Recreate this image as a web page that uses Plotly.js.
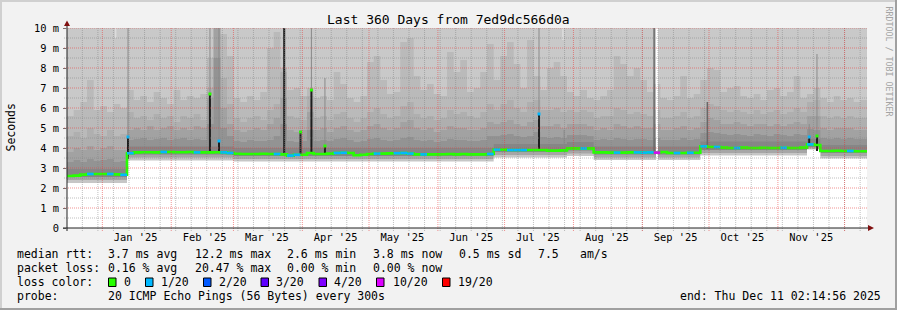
<!DOCTYPE html>
<html>
<head>
<meta charset="utf-8">
<script src="https://cdn.plot.ly/plotly-3.0.1.min.js"></script>
<style>
html,body{margin:0;padding:0;background:#f2f2f2;}
#chart{width:897px;height:310px;}
</style>
</head>
<body>
<div id="chart"></div>
<script>
// ---------------- DATA ----------------
const startTime = '2024-12-16 02:14:56';
const endTime   = '2025-12-11 02:14:56';
const binDays = 3; // RRD consolidation step used for the arrays below (120 bins)

// median RTT (ms) per 3-day bin
const medianRtt = [
 2.60,2.62,2.67,2.70,2.70,2.70,2.70,2.68,2.66,3.74,
 3.78,3.79,3.79,3.78,3.80,3.80,3.79,3.79,3.80,3.78,
 3.78,3.78,3.79,3.78,3.75,3.71,3.70,3.70,3.70,3.71,
 3.70,3.70,3.68,3.62,3.66,3.66,3.75,3.70,3.70,3.72,
 3.75,3.76,3.75,3.64,3.66,3.70,3.72,3.72,3.73,3.74,
 3.75,3.72,3.68,3.68,3.68,3.68,3.69,3.70,3.68,3.70,
 3.68,3.68,3.68,3.70,3.92,3.92,3.90,3.90,3.90,3.90,
 3.90,3.90,3.87,3.87,3.88,3.98,3.98,3.98,3.98,3.78,
 3.78,3.77,3.77,3.77,3.78,3.78,3.77,3.78,3.77,3.80,
 3.75,3.75,3.75,3.76,3.76,4.08,4.05,4.05,4.02,4.00,
 4.00,4.02,4.00,4.00,4.01,4.00,4.00,4.01,4.00,4.00,
 4.02,4.18,4.15,3.85,3.85,3.86,3.85,3.85,3.84,3.84
];
// lost pings (of 20) per bin
const lossCount = [
 0,0,0,1,0,0,1,0,1,1,
 0,0,0,0,1,0,0,0,0,1,
 0,0,0,1,1,0,0,0,0,0,
 0,1,0,1,1,0,0,0,0,0,
 1,1,0,0,0,0,1,0,0,1,
 1,1,0,1,0,0,0,0,0,0,
 0,0,0,1,1,0,1,1,1,0,
 0,0,0,0,0,0,0,1,0,0,
 0,0,1,0,0,1,1,1,10,0,
 0,1,0,1,0,1,0,1,0,0,
 1,0,0,0,0,0,0,1,0,0,
 0,1,0,0,0,0,0,1,0,0
];
// smoke: upper ping percentiles (ms) per bin, outermost first
const smokeB = [
 5.6,5.9,6.3,7.4,5.9,6.1,5.8,6.2,6.0,6.9,
 6.4,6.6,6.3,6.8,6.5,6.2,6.9,6.4,6.6,6.5,
 6.7,8.5,10.5,9.7,8.6,6.5,6.3,6.6,6.4,6.8,
 9.0,9.8,8.0,6.9,7.0,6.6,7.0,6.5,6.6,6.4,
 7.8,7.2,6.5,6.3,6.6,8.3,8.6,7.4,6.7,6.8,
 9.3,9.5,7.6,6.9,7.2,6.7,6.6,8.8,7.8,8.4,
 6.8,7.0,7.8,9.2,7.4,8.6,9.3,8.2,7.0,9.4,
 7.6,6.9,8.0,8.3,7.6,6.8,6.6,6.9,6.5,6.4,
 6.6,6.9,8.6,8.2,7.6,8.0,7.4,6.8,7.2,6.5,
 6.4,6.6,7.6,6.5,6.7,7.4,8.0,7.9,6.8,7.0,
 7.1,6.6,6.5,6.7,6.4,6.9,7.0,6.6,6.8,7.6,
 6.5,6.7,7.0,6.5,6.3,6.6,6.4,6.5,6.3,6.4
];
const smokeC = [
 4.6,4.8,4.5,5.0,4.7,4.6,4.9,4.6,4.7,5.8,
 5.5,5.6,5.4,5.7,5.5,5.6,5.3,5.6,5.5,5.7,
 5.4,7.0,10.5,7.5,6.2,5.5,5.3,5.5,5.6,5.4,
 5.9,6.2,7.8,5.6,5.5,5.4,6.6,5.5,5.6,5.4,
 5.7,5.8,5.5,5.3,5.5,5.8,6.0,5.7,5.5,5.6,
 6.1,6.3,5.7,5.5,5.6,5.4,5.5,5.9,5.7,5.8,
 5.6,5.5,5.8,6.2,5.9,6.2,6.4,6.0,5.8,6.3,
 6.4,5.9,5.9,6.0,5.8,5.9,5.8,5.9,5.8,5.5,
 5.6,5.6,6.0,5.9,5.7,5.8,5.7,5.6,5.9,5.5,
 5.5,5.6,5.8,5.5,5.6,6.0,6.2,6.1,5.9,5.8,
 5.9,5.8,5.7,5.9,5.7,5.8,5.9,5.7,5.8,6.0,
 5.8,6.3,6.4,5.6,5.5,5.6,5.5,5.6,5.5,5.5
];
const smokeD = [
 3.8,4.0,3.9,4.1,3.9,4.0,4.1,3.9,3.9,4.9,
 5.0,4.9,5.1,4.9,5.0,5.1,4.9,5.0,4.9,5.1,
 5.0,6.5,10.5,6.0,5.2,4.9,4.8,4.9,5.0,4.9,
 5.2,5.5,6.5,4.9,4.8,4.9,5.8,4.9,5.0,4.8,
 5.0,5.1,4.9,4.8,4.9,5.1,5.2,5.0,4.9,5.0,
 5.3,5.4,5.0,4.9,5.0,4.8,4.9,5.1,5.0,5.0,
 4.9,4.9,5.0,5.3,5.2,5.3,5.4,5.2,5.1,5.3,
 5.4,5.1,5.1,5.2,5.0,5.2,5.2,5.2,5.1,4.9,
 5.0,4.9,5.2,5.1,5.0,5.1,5.0,5.0,5.2,4.9,
 4.9,5.0,5.1,4.9,5.0,5.3,5.5,5.4,5.2,5.2,
 5.3,5.2,5.1,5.2,5.2,5.1,5.2,5.1,5.2,5.3,
 5.2,5.6,5.6,5.0,4.9,5.0,5.0,5.0,4.9,4.9
];
const smokeE = [
 3.30,3.40,3.30,3.45,3.35,3.40,3.45,3.30,3.35,4.40,
 4.45,4.50,4.40,4.45,4.50,4.40,4.45,4.50,4.40,4.45,
 4.40,5.20,8.50,5.00,4.60,4.35,4.30,4.40,4.35,4.35,
 4.40,4.60,5.20,4.35,4.30,4.35,4.90,4.35,4.40,4.35,
 4.45,4.50,4.40,4.30,4.35,4.45,4.50,4.40,4.35,4.40,
 4.50,4.55,4.40,4.35,4.40,4.30,4.35,4.45,4.40,4.40,
 4.35,4.35,4.40,4.60,4.60,4.65,4.70,4.60,4.55,4.60,
 4.80,4.55,4.50,4.55,4.50,4.65,4.65,4.65,4.60,4.40,
 4.45,4.40,4.50,4.45,4.40,4.45,4.45,4.40,4.50,4.40,
 4.40,4.40,4.50,4.40,4.45,4.75,4.80,4.75,4.70,4.65,
 4.70,4.65,4.60,4.70,4.65,4.60,4.70,4.65,4.60,4.70,
 4.65,4.95,4.90,4.50,4.45,4.50,4.45,4.50,4.45,4.45
];
// smoke layers that follow the median plateaus (change points)
const plateauDates = ['2024-12-16 02:14:56','2025-01-12 02:14:56','2025-03-01 02:14:56','2025-06-26 02:14:56',
  '2025-07-29 02:14:56','2025-08-10 02:14:56','2025-09-27 02:14:56','2025-11-14 02:14:56','2025-11-20 02:14:56'];
const smokeF   = [2.95, 4.08, 4.00, 4.20, 4.30, 4.08, 4.32, 4.45, 4.15];
const smokeG   = [2.55, 3.68, 3.60, 3.80, 3.88, 3.68, 3.90, 4.05, 3.75];
const smokeH   = [2.40, 3.52, 3.45, 3.65, 3.72, 3.52, 3.75, 3.98, 3.60];
const minRtt   = [2.25, 3.38, 3.33, 3.52, 3.60, 3.40, 3.62, 3.92, 3.48];

// short events
const spikeDates = ['2025-01-12 13:00','2025-02-18 10:00','2025-02-22 12:00','2025-03-23 20:00','2025-03-31 04:00',
  '2025-04-05 02:00','2025-04-11 04:00','2025-07-16 12:00','2025-11-15 02:00','2025-11-18 14:00'];
const spikeLow  = [3.45, 3.78, 3.78, 3.68, 3.70, 3.72, 3.72, 3.88, 4.10, 3.85];
const spikeHigh = [4.55, 6.70, 4.35, 10.5, 4.80, 6.90, 4.10, 5.70, 4.55, 4.60];
const spikeLoss = [1, 0, 1, 0, 0, 0, 0, 1, 1, 0];
const greySpikeDates = ['2025-09-06 07:00','2025-09-30 06:00'];
const greySpikeLow   = [3.85, 3.95];
const greySpikeHigh  = [10.5, 6.30];
const thinDates = ['2025-01-12 13:00','2025-02-18 10:00','2025-02-22 12:00','2025-04-05 02:00','2025-04-11 04:00',
  '2025-07-16 12:00','2025-07-27 19:00','2025-11-15 02:00','2025-11-18 14:00'];
const thinLow  = [4.55, 6.70, 4.35, 6.90, 4.10, 5.70, 4.00, 4.55, 4.60];
const thinHigh = [10.5, 10.5, 10.5, 10.5, 7.50, 10.5, 4.90, 5.20, 8.70];
const lightDates = ['2025-01-07 00:00','2025-07-27 06:00'];
const lightLow  = [9.5, 9.4];
const lightHigh = [10.5, 10.5];
const gapDates = ['2025-09-07 14:00'];

// axis labels
const monthLabelDates = ['2025-01-16','2025-02-16','2025-03-16','2025-04-16','2025-05-16','2025-06-16',
  '2025-07-16','2025-08-16','2025-09-16','2025-10-16','2025-11-16'];
const monthLabels = ["Jan '25","Feb '25","Mar '25","Apr '25","May '25","Jun '25","Jul '25","Aug '25","Sep '25","Oct '25","Nov '25"];
const yTickVals = [0,1,2,3,4,5,6,7,8,9,10];
const yTickText = ['0','1 m','2 m','3 m','4 m','5 m','6 m','7 m','8 m','9 m','10 m'];

// legend texts
const rttStats  = ['3.7 ms avg','12.2 ms max','2.6 ms min','3.8 ms now','0.5 ms sd','7.5','am/s'];
const lossStats = ['0.16 % avg','20.47 % max','0.00 % min','0.00 % now'];
const lossLevels = [0, 1, 2, 3, 4, 10, 19];
const lossLabels = ['0','1/20','2/20','3/20','4/20','10/20','19/20'];
const lossColors = ['#26ff00','#00b8ff','#0059ff','#5e00ff','#7e00ff','#dd00ff','#ff0000'];

// ---------------- BUILD ----------------
const FONT = 'DejaVu Sans Mono';
const MS = 86400000;
const t0 = Date.UTC(2024, 11, 16, 2, 14, 56);
function fmt(ms){const d=new Date(ms);const p=n=>String(n).padStart(2,'0');
  return d.getUTCFullYear()+'-'+p(d.getUTCMonth()+1)+'-'+p(d.getUTCDate())+' '+p(d.getUTCHours())+':'+p(d.getUTCMinutes())+':'+p(d.getUTCSeconds());}
const binX = medianRtt.map((_, i) => fmt(t0 + i * binDays * MS)).concat([endTime]);
const stepY = a => a.concat([a[a.length - 1]]);
const platX = plateauDates.concat([endTime]);

function area(x, y, color){
  return {type:'scatter', mode:'lines', x, y, line:{width:0, shape:'hv'}, fill:'tozeroy',
    fillcolor:color, hoverinfo:'skip', showlegend:false};
}
function segs(dates, lo, hi, color, width){
  const x = [], y = [];
  dates.forEach((d, i) => { x.push(d, d, null); y.push(lo[i], hi[i], null); });
  return {type:'scatter', mode:'lines', x, y, line:{color, width}, hoverinfo:'skip', showlegend:false};
}

const traces = [];
traces.push(segs(lightDates, lightLow, lightHigh, '#dddddd', 1.5));
traces.push(area(binX, stepY(smokeB), '#bababa'));
traces.push(area(binX, stepY(smokeC), '#afafaf'));
traces.push(area(binX, stepY(smokeD), '#a2a2a2'));
traces.push(area(binX, stepY(smokeE), '#939393'));
traces.push(area(platX, stepY(smokeF), '#868686'));
traces.push(area(platX, stepY(smokeG), '#a6a6a6'));
traces.push(area(platX, stepY(smokeH), '#c6c6c6'));
traces.push(area(platX, stepY(minRtt), '#ffffff'));
traces.push(segs(thinDates, thinLow, thinHigh, '#8a8a8a', 1));
traces.push(segs(greySpikeDates, greySpikeLow, greySpikeHigh, '#686868', 1.5));
traces.push(segs(spikeDates, spikeLow, spikeHigh, '#1e1e1e', 2));
traces.push(segs(gapDates, [0], [10.5], '#ffffff', 2));
// median line (no loss colour)
traces.push({type:'scatter', mode:'lines', x:binX, y:stepY(medianRtt),
  line:{color:lossColors[0], width:2.6, shape:'hv'}, hoverinfo:'skip', showlegend:false});
// loss coloured pieces of the median
lossLevels.forEach((lv, k) => {
  if (lv === 0) return;
  const x = [], y = [];
  lossCount.forEach((c, i) => { if (c === lv) { x.push(binX[i], binX[i+1], null); y.push(medianRtt[i], medianRtt[i], null); } });
  if (x.length) traces.push({type:'scatter', mode:'lines', x, y, line:{color:lossColors[k], width:2.6},
    hoverinfo:'skip', showlegend:false});
});
// spike tips
traces.push({type:'scatter', mode:'markers', x:spikeDates, y:spikeHigh,
  marker:{symbol:'square', size:3, color:spikeLoss.map(l => lossColors[lossLevels.indexOf(l)])},
  hoverinfo:'skip', showlegend:false});

// ---------------- LAYOUT ----------------
const L = 67, T = 28, W = 800, H = 200;
const px2x = px => (px - L) / W;
const py2y = py => (T + H - py) / H;
const shapes = [];
const GRID = 'rgba(130,130,130,0.5)', MGRID = 'rgba(232,60,60,0.55)';
// horizontal grid
for (let k = 1; k <= 20; k++) {
  const v = k / 2;
  shapes.push({type:'line', layer:'above', xref:'paper', yref:'y', x0:px2x(64), x1:px2x(868), y0:v, y1:v,
    line:{color: k % 2 ? GRID : MGRID, width:1, dash:'1px,1px'}});
}
// vertical grid: weeks (Mondays) and months
for (let t = Date.UTC(2024, 11, 23); t < Date.UTC(2025, 11, 11, 2); t += 7 * MS) {
  const d = fmt(t);
  shapes.push({type:'line', layer:'above', xref:'x', yref:'paper', x0:d, x1:d, y0:py2y(231), y1:1,
    line:{color:GRID, width:1, dash:'1px,1px'}});
}
for (let m = 0; m < 12; m++) {
  const d = fmt(Date.UTC(2025, m, 1));
  shapes.push({type:'line', layer:'above', xref:'x', yref:'paper', x0:d, x1:d, y0:py2y(231), y1:1,
    line:{color:MGRID, width:1, dash:'1px,1px'}});
}
// axes
shapes.push({type:'line', layer:'above', xref:'paper', yref:'paper', x0:px2x(63), x1:px2x(869), y0:0, y1:0, line:{color:'#202020', width:1}});
shapes.push({type:'line', layer:'above', xref:'paper', yref:'paper', x0:0, x1:0, y0:py2y(231), y1:py2y(24), line:{color:'#202020', width:1}});
// arrows
const pth = pts => 'M' + pts.map(p => px2x(p[0]) + ',' + py2y(p[1])).join(' L') + ' Z';
shapes.push({type:'path', layer:'above', xref:'paper', yref:'paper', path:pth([[64,26],[70,26],[67,20.5]]), fillcolor:'#801010', line:{width:0}});
shapes.push({type:'path', layer:'above', xref:'paper', yref:'paper', path:pth([[868,225],[868,231],[874,228]]), fillcolor:'#801010', line:{width:0}});
// frame shading
const rectPx = (x0, y0, x1, y1, fill) => ({type:'rect', layer:'above', xref:'paper', yref:'paper',
  x0:px2x(x0), x1:px2x(x1), y0:py2y(y0), y1:py2y(y1), fillcolor:fill, line:{width:0}});
shapes.push(rectPx(0, 0, 897, 2, '#d0d0d0'));
shapes.push(rectPx(0, 0, 2, 310, '#d0d0d0'));
shapes.push(rectPx(0, 308, 897, 310, '#a0a0a0'));
shapes.push(rectPx(895, 0, 897, 310, '#a0a0a0'));
// loss colour boxes
const boxX = [108.5, 145.5, 203.5, 261, 319, 376.5, 442.5];
const boxLabelX = [123, 159.5, 217.5, 275, 333, 391.5, 457];
lossColors.forEach((c, i) => shapes.push({type:'rect', layer:'above', xref:'paper', yref:'paper',
  x0:px2x(boxX[i]), x1:px2x(boxX[i] + 7.5), y0:py2y(278), y1:py2y(286.5), fillcolor:c, line:{color:'#000', width:1}}));

const annotations = [];
function ann(text, px, py, xanchor, size, extra){
  annotations.push(Object.assign({text, x:px2x(px), y:py2y(py), xref:'paper', yref:'paper', xanchor:xanchor || 'left',
    yanchor:'middle', showarrow:false, borderpad:0, font:{family:FONT, size:size || 11.5, color:'#000'}}, extra || {}));
}
ann('Last 360 Days from 7ed9dc566d0a', 448.5, 19, 'center', 13);
ann('Seconds', 10.5, 128, 'center', 11.5, {textangle:-90});
ann('RRDTOOL / TOBI OETIKER', 888.5, 61, 'center', 8.3, {textangle:90, font:{family:FONT, size:8.3, color:'#a3a3a3'}});
const colX = [106.5, 193.5, 285.5, 371.5, 457.5, 537, 578.5];
ann('median rtt:', 15.5, 254);
rttStats.forEach((s, i) => ann(s, colX[i], 254));
ann('packet loss:', 15.5, 268);
lossStats.forEach((s, i) => ann(s, colX[i], 268));
ann('loss color:', 15.5, 282);
lossLabels.forEach((s, i) => ann(s, boxLabelX[i], 282));
ann('probe:', 15.5, 296);
ann('20 ICMP Echo Pings (56 Bytes) every 300s', 106.5, 296);
ann('end: Thu Dec 11 02:14:56 2025', 881.5, 296, 'right');

const layout = {
  width:897, height:310,
  margin:{l:L, r:897 - L - W, t:T, b:310 - T - H, pad:0},
  paper_bgcolor:'#f2f2f2', plot_bgcolor:'#c9c9c9',
  showlegend:false,
  font:{family:FONT, color:'#000'},
  xaxis:{type:'date', range:[startTime, endTime], tickmode:'array', tickvals:monthLabelDates, ticktext:monthLabels,
    showgrid:false, zeroline:false, showline:false, ticks:'', tickfont:{family:FONT, size:10.4, color:'#000'},
    ticklabelstandoff:2, fixedrange:true},
  yaxis:{range:[0, 10], tickmode:'array', tickvals:yTickVals, ticktext:yTickText,
    showgrid:false, zeroline:false, showline:false, ticks:'outside', ticklen:3, tickcolor:'rgba(32,32,32,0.6)',
    tickfont:{family:FONT, size:10.4, color:'#000'}, ticklabelstandoff:2, fixedrange:true},
  shapes, annotations
};
Plotly.newPlot('chart', traces, layout, {staticPlot:true, displayModeBar:false});
</script>
</body>
</html>
